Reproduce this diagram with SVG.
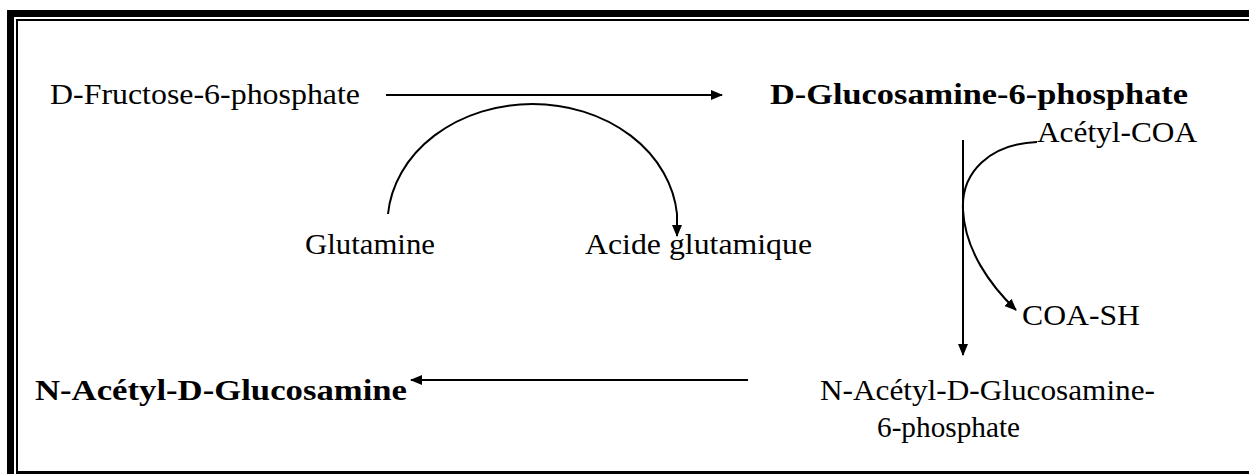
<svg xmlns="http://www.w3.org/2000/svg" width="1249" height="474" viewBox="0 0 1249 474">
<style>
.t{font-family:"Liberation Serif","Times New Roman",serif;font-size:29px;fill:#000}
.b{font-weight:bold}
.c{fill:none;stroke:#000;stroke-width:2}
</style>
<defs>
<marker id="ah" markerWidth="12" markerHeight="10" refX="11" refY="5" orient="auto" markerUnits="userSpaceOnUse">
<path d="M0,0 L12,5 L0,10 Z" fill="#000"/>
</marker>
</defs>
<rect width="1249" height="474" fill="#fff"/>
<g id="frame" fill="#000">
<rect x="7" y="10" width="1242" height="7"/>
<rect x="7" y="10" width="7" height="464"/>
<rect x="16" y="19" width="1233" height="2"/>
<rect x="16" y="19" width="2" height="455"/>
<rect x="16" y="471" width="1233" height="3"/>
</g>
<g id="connectors">
<line class="c" x1="386" y1="95" x2="722" y2="95" marker-end="url(#ah)"/>
<path class="c" d="M388,214 A145,120 0 0 1 677,214 L677,236" marker-end="url(#ah)"/>
<line class="c" x1="963" y1="140" x2="963" y2="355" marker-end="url(#ah)"/>
<path class="c" d="M1037,142 C990,144 961,172 963,210 C965,250 990,285 1016,310" marker-end="url(#ah)"/>
<line class="c" x1="748" y1="380" x2="411" y2="380" marker-end="url(#ah)"/>
</g>
<g id="n-fructose"><text class="t" x="50" y="104" textLength="310" lengthAdjust="spacingAndGlyphs">D-Fructose-6-phosphate</text></g>
<g id="n-glucosamine6p"><text class="t b" x="770" y="104" textLength="418" lengthAdjust="spacingAndGlyphs">D-Glucosamine-6-phosphate</text></g>
<g id="n-glutamine"><text class="t" x="305" y="254" textLength="130" lengthAdjust="spacingAndGlyphs">Glutamine</text></g>
<g id="n-acide"><text class="t" x="585" y="254" textLength="227" lengthAdjust="spacingAndGlyphs">Acide glutamique</text></g>
<g id="n-acetylcoa"><text class="t" x="1037" y="142" textLength="160" lengthAdjust="spacingAndGlyphs">Acétyl-COA</text></g>
<g id="n-coash"><text class="t" x="1022" y="325" textLength="118" lengthAdjust="spacingAndGlyphs">COA-SH</text></g>
<g id="n-nag6p"><text class="t" x="820" y="400" textLength="335" lengthAdjust="spacingAndGlyphs">N-Acétyl-D-Glucosamine-</text><text class="t" x="877" y="437" textLength="143" lengthAdjust="spacingAndGlyphs">6-phosphate</text></g>
<g id="n-nag"><text class="t b" x="35" y="400" textLength="372" lengthAdjust="spacingAndGlyphs">N-Acétyl-D-Glucosamine</text></g>
</svg>
